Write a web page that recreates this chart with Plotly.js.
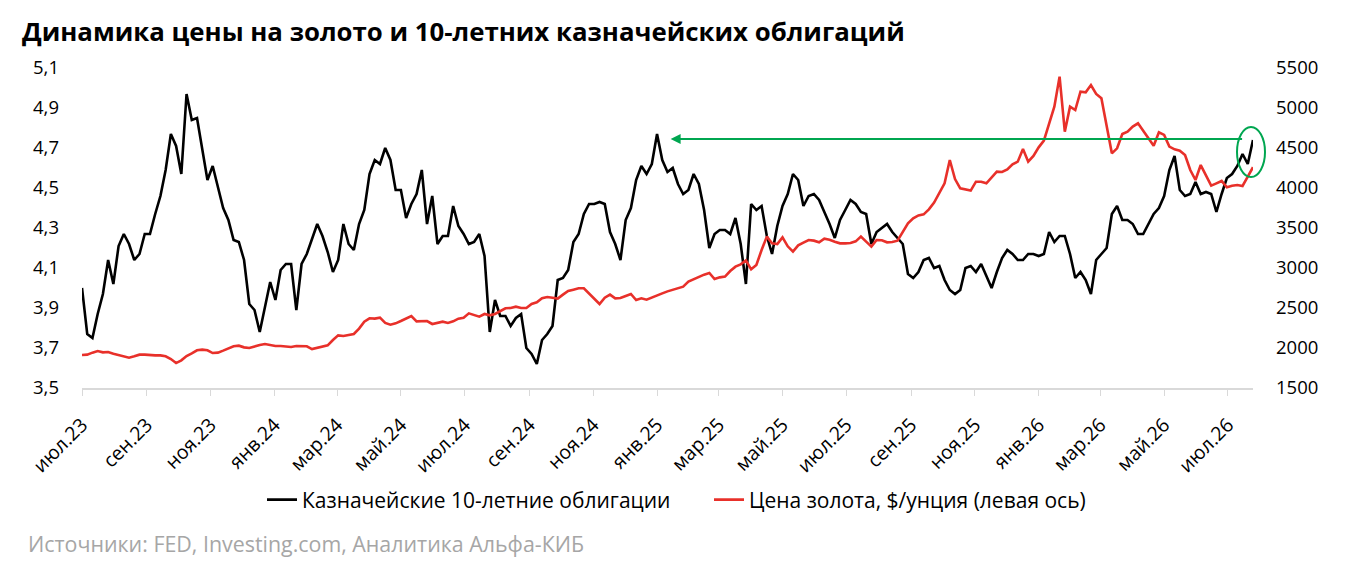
<!DOCTYPE html>
<html>
<head>
<meta charset="utf-8">
<script src="https://cdn.plot.ly/plotly-3.0.1.min.js"></script>
<style>
  html, body { margin: 0; padding: 0; background: #fff; }
  #chart { width: 1358px; height: 565px; }
</style>
</head>
<body>
<div id="chart"></div>
<script>
// one reading every 5 days, starting 1 July 2023
const startDate = "2023-07-01";
const stepDays = 5;

// 10-year Treasury yield, %
const yields = [
  4.00, 3.77, 3.75, 3.87, 3.97, 4.14, 4.02, 4.21, 4.27, 4.22,
  4.14, 4.17, 4.27, 4.27, 4.37, 4.46, 4.59, 4.77, 4.71, 4.57,
  4.97, 4.84, 4.85, 4.69, 4.54, 4.61, 4.51, 4.40, 4.34, 4.24,
  4.23, 4.14, 3.92, 3.89, 3.78, 3.91, 4.03, 3.94, 4.09, 4.12,
  4.12, 3.89, 4.12, 4.17, 4.24, 4.32, 4.26, 4.18, 4.08, 4.14,
  4.32, 4.22, 4.19, 4.32, 4.39, 4.57, 4.64, 4.62, 4.70, 4.64,
  4.49, 4.49, 4.35, 4.42, 4.47, 4.59, 4.32, 4.46, 4.22, 4.26,
  4.26, 4.41, 4.31, 4.27, 4.22, 4.23, 4.27, 4.16, 3.78, 3.94,
  3.86, 3.86, 3.81, 3.85, 3.87, 3.70, 3.67, 3.62, 3.74, 3.77,
  3.81, 4.04, 4.05, 4.09, 4.23, 4.27, 4.37, 4.42, 4.42, 4.43,
  4.42, 4.28, 4.22, 4.14, 4.34, 4.40, 4.54, 4.61, 4.57, 4.62,
  4.77, 4.64, 4.58, 4.60, 4.52, 4.47, 4.49, 4.57, 4.52, 4.39,
  4.20, 4.27, 4.29, 4.29, 4.27, 4.35, 4.22, 4.02, 4.42, 4.39,
  4.41, 4.26, 4.17, 4.31, 4.41, 4.47, 4.57, 4.54, 4.41, 4.46,
  4.47, 4.44, 4.38, 4.32, 4.25, 4.34, 4.39, 4.44, 4.42, 4.38,
  4.37, 4.22, 4.28, 4.30, 4.32, 4.28, 4.25, 4.22, 4.07, 4.05,
  4.08, 4.14, 4.15, 4.10, 4.11, 4.04, 3.99, 3.97, 3.99, 4.10,
  4.11, 4.08, 4.12, 4.06, 4.00, 4.08, 4.15, 4.19, 4.17, 4.14,
  4.14, 4.17, 4.17, 4.16, 4.17, 4.28, 4.23, 4.26, 4.26, 4.17,
  4.05, 4.08, 4.04, 3.97, 4.14, 4.17, 4.20, 4.37, 4.41, 4.34,
  4.34, 4.32, 4.27, 4.27, 4.32, 4.37, 4.40, 4.46, 4.59, 4.66,
  4.49, 4.46, 4.47, 4.53, 4.47, 4.48, 4.47, 4.38, 4.47, 4.55,
  4.57, 4.61, 4.67, 4.62, 4.74
];

// gold price, $ per ounce
const gold = [
  1913, 1917, 1942, 1962, 1946, 1950, 1929, 1913, 1896, 1879,
  1896, 1917, 1917, 1908, 1908, 1908, 1896, 1862, 1812, 1846,
  1900, 1933, 1971, 1979, 1971, 1937, 1942, 1967, 1992, 2021,
  2029, 2008, 2000, 2021, 2037, 2050, 2037, 2025, 2025, 2017,
  2012, 2025, 2025, 2021, 1987, 2004, 2017, 2033, 2100, 2158,
  2150, 2158, 2175, 2242, 2329, 2371, 2367, 2379, 2313, 2292,
  2308, 2337, 2371, 2400, 2333, 2333, 2337, 2300, 2313, 2329,
  2313, 2333, 2367, 2379, 2433, 2413, 2392, 2425, 2408, 2425,
  2462, 2496, 2500, 2517, 2500, 2500, 2550, 2571, 2621, 2637,
  2629, 2617, 2667, 2712, 2729, 2746, 2746, 2683, 2617, 2550,
  2629, 2667, 2621, 2625, 2650, 2675, 2600, 2621, 2604, 2633,
  2654, 2683, 2708, 2729, 2754, 2767, 2829, 2858, 2892, 2917,
  2938, 2862, 2883, 2892, 2962, 3017, 3046, 3096, 2983, 3037,
  3225, 3392, 3308, 3300, 3383, 3271, 3204, 3283, 3317, 3350,
  3342, 3321, 3367, 3354, 3329, 3308, 3308, 3312, 3333, 3392,
  3329, 3267, 3350, 3346, 3321, 3325, 3342, 3454, 3558, 3621,
  3658, 3671, 3733, 3817, 3933, 4058, 4350, 4112, 3996, 3983,
  3967, 4079, 4079, 4058, 4125, 4204, 4200, 4233, 4296, 4329,
  4487, 4329, 4400, 4508, 4592, 4808, 5017, 5392, 4704, 5017,
  4975, 5204, 5196, 5287, 5175, 5121, 4767, 4433, 4496, 4675,
  4704, 4767, 4808, 4717, 4621, 4529, 4696, 4663, 4517, 4483,
  4467, 4412, 4225, 4100, 4287, 4154, 4029, 4058, 4088, 4008,
  4029, 4038, 4025, 4142, 4260
];

const tickDates = [
  "2023-07-01", "2023-09-01", "2023-11-01", "2024-01-01", "2024-03-01",
  "2024-05-01", "2024-07-01", "2024-09-01", "2024-11-01", "2025-01-01",
  "2025-03-01", "2025-05-01", "2025-07-01", "2025-09-01", "2025-11-01",
  "2026-01-01", "2026-03-01", "2026-05-01", "2026-07-01"
];
const tickLabels = [
  "июл.23", "сен.23", "ноя.23", "янв.24", "мар.24", "май.24", "июл.24",
  "сен.24", "ноя.24", "янв.25", "мар.25", "май.25", "июл.25", "сен.25",
  "ноя.25", "янв.26", "мар.26", "май.26", "июл.26"
];

function addDays(iso, n) {
  const d = new Date(iso + "T00:00:00Z");
  d.setUTCDate(d.getUTCDate() + n);
  return d.toISOString().split("T")[0];
}

const dates = yields.map((_, i) => addDays(startDate, i * stepDays));
const lastDate = dates[dates.length - 1];

const font = "Open Sans, sans-serif";
const green = "#00a650";

const traces = [
  {
    x: dates,
    y: yields,
    type: "scatter",
    mode: "lines",
    name: "Казначейские 10-летние облигации",
    line: { color: "#000000", width: 2.6 },
    yaxis: "y",
  },
  {
    x: dates,
    y: gold,
    type: "scatter",
    mode: "lines",
    name: "Цена золота, $/унция (левая ось)",
    line: { color: "#e8302a", width: 2.6 },
    yaxis: "y2",
  },
];

const layout = {
  width: 1358,
  height: 565,
  margin: { l: 82, r: 105, t: 68, b: 177 },
  paper_bgcolor: "#ffffff",
  plot_bgcolor: "#ffffff",
  separators: ", ",
  font: { family: font, size: 18, color: "#000" },
  title: {
    text: "<b>Динамика цены на золото и 10-летних казначейских облигаций</b>",
    x: 22 / 1358,
    xanchor: "left",
    xref: "container",
    y: 1 - 32 / 565,
    yanchor: "middle",
    yref: "container",
    font: { family: font, size: 25.8, color: "#000" },
  },
  xaxis: {
    type: "date",
    range: [startDate, lastDate],
    tickvals: tickDates,
    ticktext: tickLabels,
    tickangle: -45,
    ticks: "outside",
    ticklen: 6,
    tickcolor: "#d9d9d9",
    ticklabelstandoff: 10,
    showline: true,
    linecolor: "#d9d9d9",
    linewidth: 1.5,
    showgrid: false,
    zeroline: false,
    tickfont: { family: font, size: 19.5, color: "#000" },
  },
  yaxis: {
    range: [3.5, 5.1],
    dtick: 0.2,
    tick0: 3.5,
    tickformat: ".1f",
    showgrid: false,
    zeroline: false,
    showline: false,
    ticklabelstandoff: 22,
    tickfont: { family: font, size: 18.5, color: "#000" },
  },
  yaxis2: {
    range: [1500, 5500],
    dtick: 500,
    tick0: 1500,
    overlaying: "y",
    side: "right",
    showgrid: false,
    zeroline: false,
    showline: false,
    ticklabelstandoff: 22,
    tickfont: { family: font, size: 18.5, color: "#000" },
  },
  showlegend: true,
  legend: {
    orientation: "h",
    x: (262 - 82) / 1171,
    xanchor: "left",
    y: -0.35,
    yanchor: "middle",
    font: { family: font, size: 21, color: "#000" },
    itemwidth: 30,
    entrywidth: 402,
    entrywidthmode: "pixels",
    traceorder: "normal",
  },
  annotations: [
    {
      xref: "x",
      yref: "y",
      axref: "x",
      ayref: "y",
      x: "2025-01-14",
      y: 4.745,
      ax: "2026-07-16",
      ay: 4.745,
      showarrow: true,
      arrowhead: 2,
      arrowsize: 1,
      arrowwidth: 2,
      arrowcolor: green,
      text: "",
    },
    {
      xref: "paper",
      yref: "paper",
      x: -56 / 1171,
      y: -155 / 320,
      xanchor: "left",
      yanchor: "middle",
      showarrow: false,
      text: "Источники: FED, Investing.com, Аналитика Альфа-КИБ",
      font: { family: font, size: 21.4, color: "#a6a6a6" },
    },
  ],
  shapes: [
    {
      type: "circle",
      xref: "paper",
      yref: "paper",
      x0: (1237 - 82) / 1171,
      x1: (1265 - 82) / 1171,
      y0: (388 - 177) / 320,
      y1: (388 - 127) / 320,
      line: { color: green, width: 2 },
    },
  ],
};

Plotly.newPlot("chart", traces, layout, { displayModeBar: false, responsive: false });
</script>
</body>
</html>
